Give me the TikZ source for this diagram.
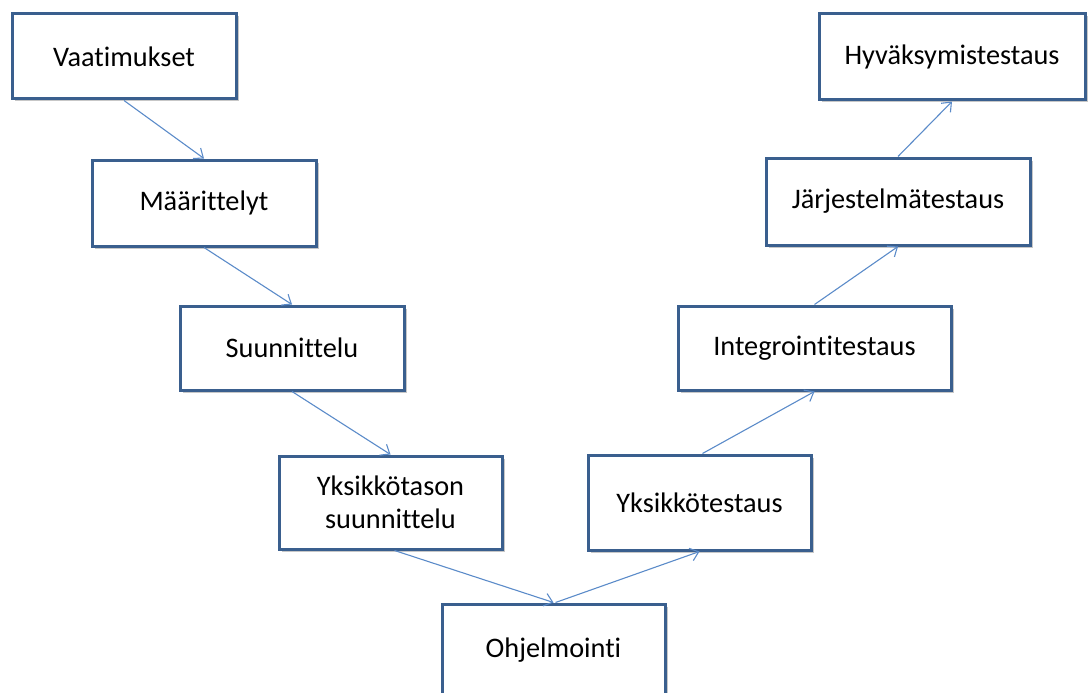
\documentclass[tikz,border=0pt]{standalone}
\usepackage{fontspec}
\setmainfont[Ligatures={NoCommon}]{Carlito}
\usetikzlibrary{arrows.meta,shadows}
\definecolor{boxedge}{HTML}{3A5F8E}
\definecolor{flow}{HTML}{5B8BC9}
\tikzset{
  stage/.style={draw=boxedge, line width=3pt, fill=white, rectangle,
    align=center, inner sep=0pt,
    font=\fontsize{28.3}{33}\selectfont,
    drop shadow={opacity=0.22, shadow xshift=2.5pt, shadow yshift=-2.5pt, fill=black}},
  flowarrow/.style={draw=flow, line width=1.1pt,
    -{Straight Barb[length=8pt,width=13pt]}}
}
\begin{document}
\begin{tikzpicture}[x=1pt,y=-1pt]
  \useasboundingbox (0,0) rectangle (1088,693);
  % left branch: specification stages
  \node[stage, minimum width=224pt, minimum height=85pt] (req)  at (124,56.5) {Vaatimukset};
  \node[stage, minimum width=224pt, minimum height=86pt] (spec) at (204,203)  {Määrittelyt};
  \node[stage, minimum width=224pt, minimum height=84pt] (des)  at (292,348)  {Suunnittelu};
  \node[stage, minimum width=223pt, minimum height=93pt] (udes) at (390.5,502.5) {Yksikkötason\\suunnittelu};
  % bottom: implementation
  \node[stage, minimum width=223pt, minimum height=93pt] (code) at (553.5,650.5) {Ohjelmointi};
  % right branch: testing stages
  \node[stage, minimum width=223pt, minimum height=95pt] (utest) at (699.5,502.5) {Yksikkötestaus};
  \node[stage, minimum width=273pt, minimum height=84pt] (itest) at (814.5,348)   {Integrointitestaus};
  \node[stage, minimum width=264pt, minimum height=87pt] (stest) at (898,201.5)   {Järjestelmätestaus};
  \node[stage, minimum width=266pt, minimum height=86pt] (atest) at (952,57)      {Hyväksymistestaus};
  % flow down the left side
  \draw[flowarrow] (req.south)  -- (spec.north);
  \draw[flowarrow] (spec.south) -- (des.north);
  \draw[flowarrow] (des.south)  -- (udes.north);
  \draw[flowarrow] ([xshift=4pt]udes.south) -- (code.north);
  % flow up the right side
  \draw[flowarrow] ([xshift=2pt]code.north) -- (utest.south);
  \draw[flowarrow] ([xshift=3pt]utest.north) -- (itest.south);
  \draw[flowarrow] (itest.north) -- (stest.south);
  \draw[flowarrow] (stest.north) -- (atest.south);
\end{tikzpicture}
\end{document}
